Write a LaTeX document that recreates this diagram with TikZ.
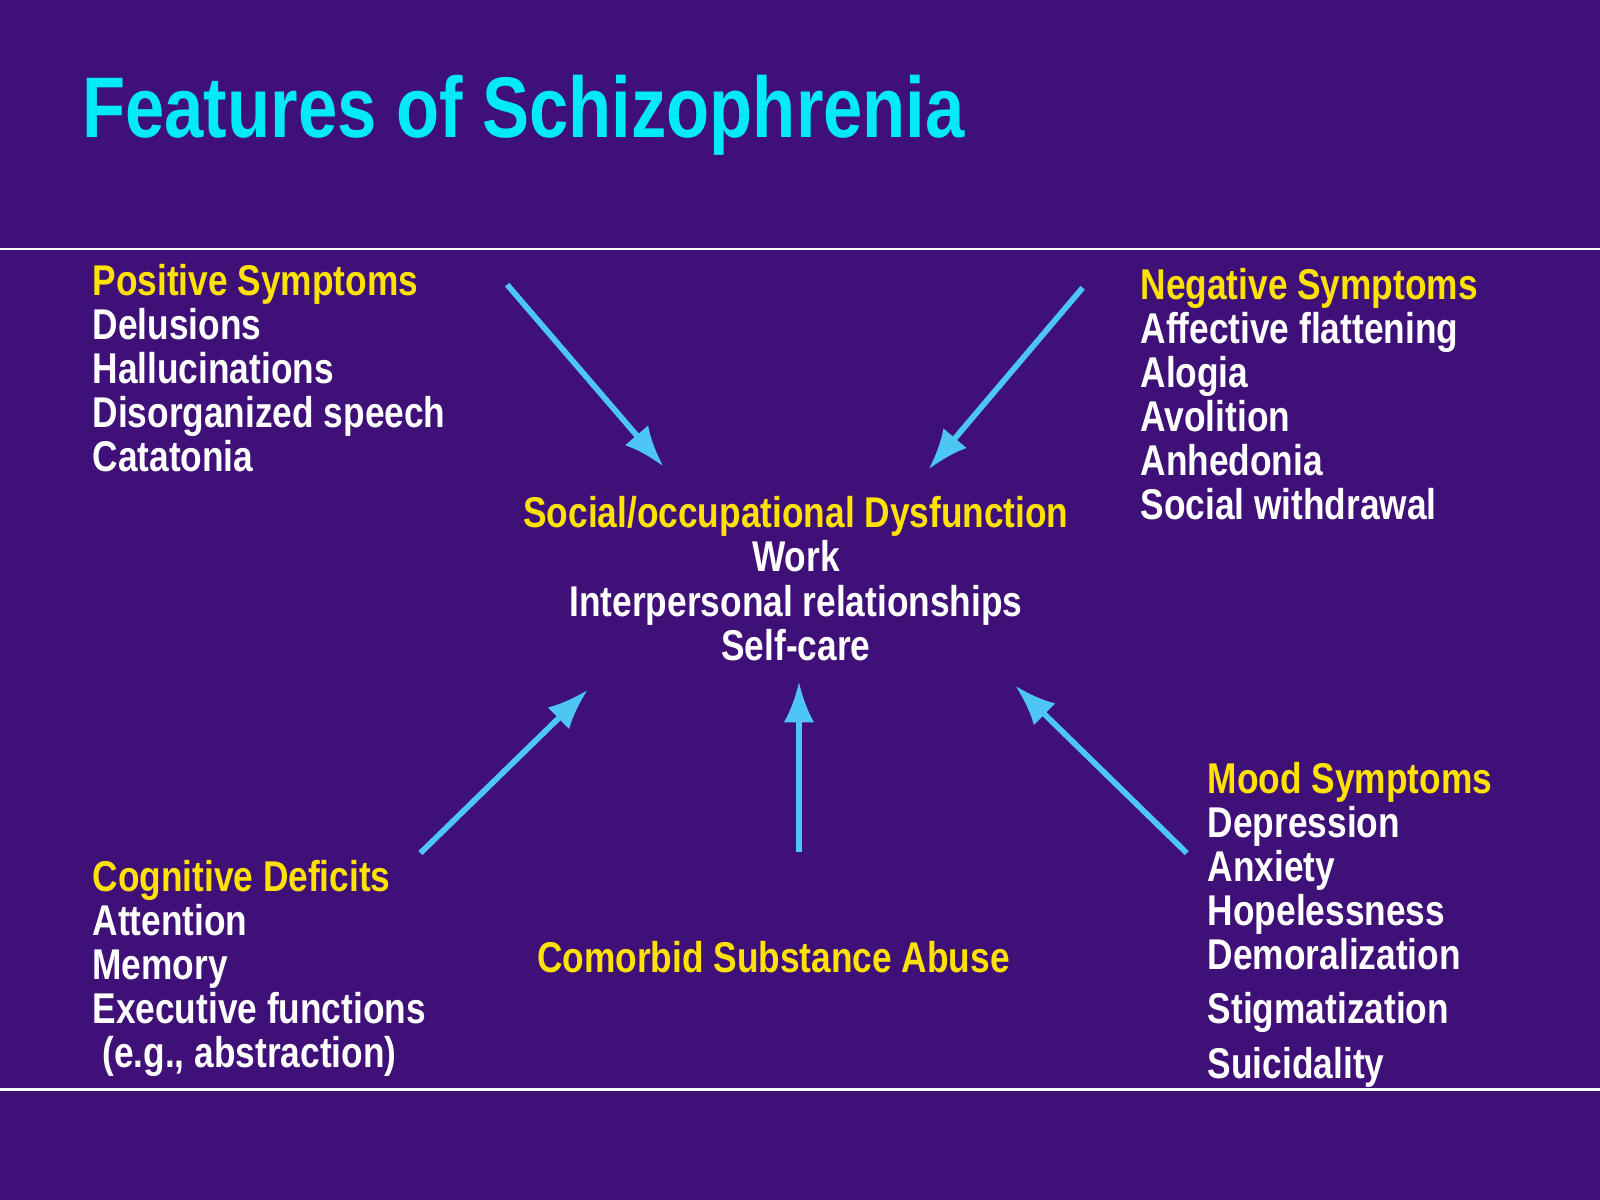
\documentclass[tikz,border=0pt]{standalone}
\usepackage{fontspec}
\setmainfont{Liberation Sans}[FakeStretch=0.82]
\begin{document}
\begin{tikzpicture}[x=1cm,y=-1cm,
  txt/.style={anchor=north west,inner sep=0pt,align=left,text=white,font=\bfseries\fontsize{12}{12.3}\selectfont},
  hd/.style={text=yellow!85!orange},
  arr/.style={draw=cyan!70!white,line width=1.6pt,-{Latex[length=4mm,width=3mm]}}]
\usetikzlibrary{arrows.meta}
\fill[fill={rgb,255:red,62;green,16;blue,120}] (0,0) rectangle (15.68,11.76);
\useasboundingbox (0,0) rectangle (15.68,11.76);
\draw[white,line width=0.8pt] (0,2.44) -- (15.68,2.44);
\draw[white,line width=0.8pt] (0,10.68) -- (15.68,10.68);
\node[anchor=west,inner sep=0pt,text={rgb,255:red,0;green,235;blue,245},font=\bfseries\fontsize{24}{26}\selectfont] (title) at (0.8,1.13) {Features of Schizophrenia};
\node[txt] (pos) at (0.9,2.58) {\textcolor{yellow!85!orange}{Positive Symptoms}\\Delusions\\Hallucinations\\Disorganized speech\\Catatonia};
\node[txt] (neg) at (11.17,2.62) {\textcolor{yellow!85!orange}{Negative Symptoms}\\Affective flattening\\Alogia\\Avolition\\Anhedonia\\Social withdrawal};
\node[txt,anchor=north,align=center] (soc) at (7.8,4.86) {\textcolor{yellow!85!orange}{Social/occupational Dysfunction}\\Work\\Interpersonal relationships\\Self-care};
\node[txt] (cog) at (0.9,8.42) {\textcolor{yellow!85!orange}{Cognitive Deficits}\\Attention\\Memory\\Executive functions\\\ (e.g., abstraction)};
\node[txt,anchor=center,hd] (sub) at (7.58,9.38) {Comorbid Substance Abuse};
\node[txt] (mood) at (11.83,7.46) {\textcolor{yellow!85!orange}{Mood Symptoms}\\Depression\\Anxiety\\Hopelessness\\Demoralization\\[0.1cm]Stigmatization\\[0.1cm]Suicidality};
\coordinate (a1) at (4.97,2.79); \coordinate (b1) at (6.5,4.57);
\coordinate (a2) at (10.61,2.82); \coordinate (b2) at (9.1,4.6);
\coordinate (a3) at (4.12,8.36); \coordinate (b3) at (5.76,6.76);
\coordinate (a4) at (7.83,8.35); \coordinate (b4) at (7.83,6.68);
\coordinate (a5) at (11.63,8.36); \coordinate (b5) at (9.95,6.72);
\draw[arr] (a1) -- (b1);
\draw[arr] (a2) -- (b2);
\draw[arr] (a3) -- (b3);
\draw[arr] (a4) -- (b4);
\draw[arr] (a5) -- (b5);
\end{tikzpicture}
\end{document}
